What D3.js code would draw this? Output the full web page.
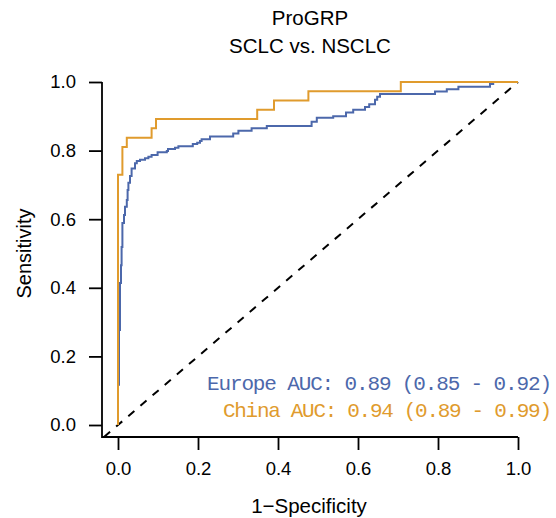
<!DOCTYPE html>
<html>
<head>
<meta charset="utf-8">
<script src="https://cdn.jsdelivr.net/npm/d3@7"></script>
<style>
  html, body { margin: 0; padding: 0; background: #fff; }
  svg { display: block; }
</style>
</head>
<body>
<div id="chart"></div>
<script>
// ---- Data ----
const titleLines = ["ProGRP", "SCLC vs. NSCLC"];
const xTicks = [0.0, 0.2, 0.4, 0.6, 0.8, 1.0];
const yTicks = [0.0, 0.2, 0.4, 0.6, 0.8, 1.0];
const xLabel = "1\u2212Specificity";
const yLabel = "Sensitivity";

// Europe ROC (1-specificity, sensitivity), step vertices
const europeFpr = [0, 0, 0.0025, 0.005, 0.005, 0.0075, 0.009, 0.011, 0.015, 0.0175, 0.022, 0.024, 0.026, 0.03, 0.034, 0.0425, 0.047, 0.055, 0.0675, 0.076, 0.084, 0.099, 0.122, 0.125, 0.1425, 0.151, 0.187, 0.198, 0.205, 0.209, 0.23, 0.288, 0.301, 0.334, 0.372, 0.484, 0.497, 0.538, 0.57, 0.588, 0.6175, 0.628, 0.6425, 0.648, 0.655, 0.7925, 0.822, 0.851, 0.93, 0.938, 1.0];
const europeTpr = [0, 0.117, 0.277, 0.364, 0.414, 0.466, 0.519, 0.589, 0.612, 0.636, 0.656, 0.685, 0.706, 0.726, 0.748, 0.763, 0.770, 0.773, 0.778, 0.782, 0.787, 0.795, 0.799, 0.805, 0.808, 0.813, 0.819, 0.823, 0.828, 0.833, 0.841, 0.850, 0.858, 0.865, 0.872, 0.884, 0.896, 0.900, 0.911, 0.919, 0.927, 0.935, 0.948, 0.957, 0.965, 0.972, 0.979, 0.986, 0.994, 1.0, 1.0];

// China ROC
const chinaFpr = [0, 0, 0.011, 0.022, 0.084, 0.095, 0.348, 0.39, 0.476, 0.707, 1.0];
const chinaTpr = [0, 0.7297, 0.8108, 0.8378, 0.8649, 0.8919, 0.9189, 0.9459, 0.9730, 1.0, 1.0];

const legendLines = ["Europe AUC: 0.89 (0.85 - 0.92)", "China AUC: 0.94 (0.89 - 0.99)"];
const seriesColors = ["#4c68ab", "#e09b2d"];

// ---- Layout ----
const W = 556, H = 518;
const svg = d3.select("#chart").append("svg").attr("width", W).attr("height", H);

const x = d3.scaleLinear().domain([0, 1]).range([118, 518]);
const y = d3.scaleLinear().domain([0, 1]).range([425, 82]);
const axisX0 = 102, axisY0 = 437;
const sansFont = "Liberation Sans, Arial, sans-serif";

// Title
svg.append("text").attr("x", 310).attr("y", 25).attr("text-anchor", "middle")
  .attr("font-family", sansFont).attr("font-size", 20.5).text(titleLines[0]);
svg.append("text").attr("x", 310).attr("y", 53).attr("text-anchor", "middle")
  .attr("font-family", sansFont).attr("font-size", 20.5).text(titleLines[1]);

// Axes
const yAxis = d3.axisLeft(y).tickValues(yTicks).tickFormat(d3.format(".1f")).tickSize(13).tickPadding(13);
const gy = svg.append("g").attr("transform", `translate(${axisX0},0)`).call(yAxis);
const xAxis = d3.axisBottom(x).tickValues(xTicks).tickFormat(d3.format(".1f")).tickSize(13).tickPadding(12);
const gx = svg.append("g").attr("transform", `translate(0,${axisY0})`).call(xAxis);
[gx, gy].forEach(g => {
  g.select(".domain").remove();
  g.selectAll(".tick line").attr("stroke", "#000").attr("stroke-width", 1.8);
  g.selectAll(".tick text").attr("font-family", sansFont).attr("font-size", 18.5).attr("fill", "#000");
});
// L-shaped axis lines
svg.append("path")
  .attr("d", `M${axisX0},${y(1)}V${axisY0}H${x(1)}`)
  .attr("fill", "none").attr("stroke", "#000").attr("stroke-width", 1.8);

// Axis labels
svg.append("text").attr("x", 309).attr("y", 513).attr("text-anchor", "middle")
  .attr("font-family", sansFont).attr("font-size", 20.5).text(xLabel);
svg.append("text").attr("transform", `translate(31,${(y(0) + y(1)) / 2}) rotate(-90)`)
  .attr("text-anchor", "middle").attr("font-family", sansFont).attr("font-size", 20).text(yLabel);

// Diagonal reference line
const diag = [-0.035, 1.0];
svg.append("line")
  .attr("x1", x(diag[0])).attr("y1", y(diag[0]))
  .attr("x2", x(diag[1])).attr("y2", y(diag[1]))
  .attr("stroke", "#000").attr("stroke-width", 2).attr("stroke-dasharray", "8,8");

// ROC curves
const line = d3.line().x(d => x(d[0])).y(d => y(d[1])).curve(d3.curveStepAfter);
const series = [
  d3.zip(europeFpr, europeTpr),
  d3.zip(chinaFpr, chinaTpr)
];
series.forEach((pts, i) => {
  svg.append("path").attr("d", line(pts))
    .attr("fill", "none").attr("stroke", seriesColors[i]).attr("stroke-width", 2);
});

// Legend (AUC text)
const legendX = [207, 223];
const legendY = [390, 417];
const legendW = [345, 329];
legendLines.forEach((t, i) => {
  svg.append("text").attr("x", legendX[i]).attr("y", legendY[i])
    .attr("font-family", "Liberation Mono, Courier New, monospace").attr("font-size", 21)
    .attr("textLength", legendW[i]).attr("lengthAdjust", "spacing")
    .attr("fill", seriesColors[i]).text(t);
});
</script>
</body>
</html>
